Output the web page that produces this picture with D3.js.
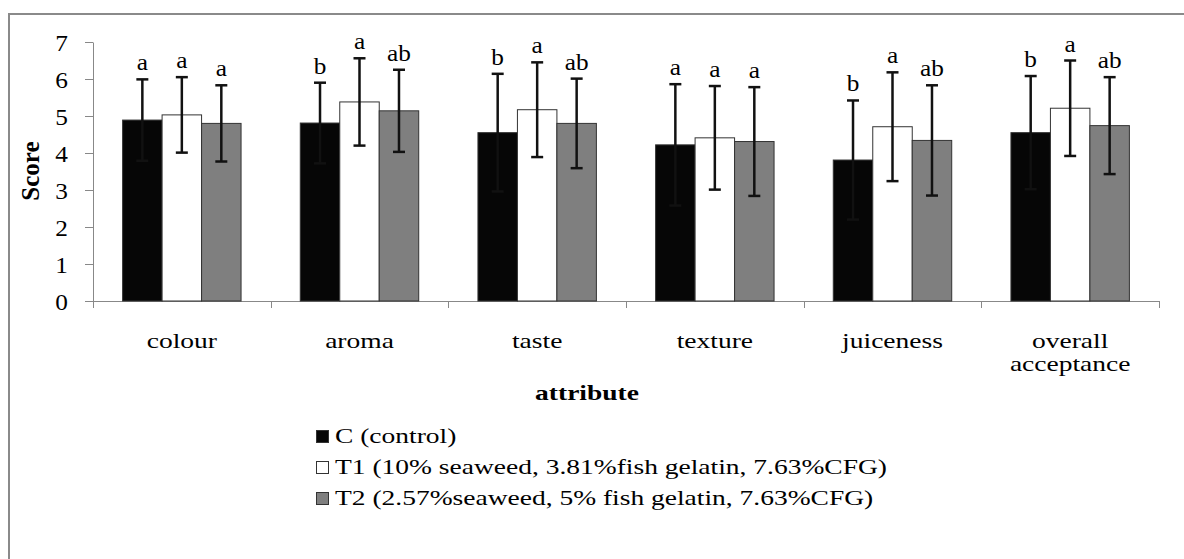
<!DOCTYPE html>
<html>
<head>
<meta charset="utf-8">
<script src="https://cdn.jsdelivr.net/npm/d3@7"></script>
<style>
  body { margin: 0; background: #fff; }
  svg { display: block; }
  svg text { font-family: "Liberation Serif", "Times New Roman", Times, "DejaVu Serif", serif; fill: #000; }
</style>
</head>
<body>
<svg id="chart" width="1184" height="559"></svg>
<script>
const categories = ["colour", "aroma", "taste", "texture", "juiceness", "overall acceptance"];
const seriesNames = ["C (control)",
    "T1 (10% seaweed, 3.81%fish gelatin, 7.63%CFG)",
    "T2 (2.57%seaweed, 5% fish gelatin, 7.63%CFG)"];
const valuesC  = [4.89, 4.81, 4.55, 4.22, 3.81, 4.55];
const valuesT1 = [5.03, 5.38, 5.17, 4.41, 4.71, 5.21];
const valuesT2 = [4.80, 5.14, 4.80, 4.31, 4.34, 4.74];
const sdC  = [1.10, 1.09, 1.59, 1.64, 1.61, 1.53];
const sdT1 = [1.02, 1.18, 1.28, 1.40, 1.47, 1.29];
const sdT2 = [1.03, 1.11, 1.21, 1.47, 1.49, 1.31];
const lettersC  = ["a", "b", "b", "a", "b", "b"];
const lettersT1 = ["a", "a", "a", "a", "a", "a"];
const lettersT2 = ["a", "ab", "ab", "a", "ab", "ab"];
const yTicks = [0, 1, 2, 3, 4, 5, 6, 7];

const fills = ["#060606", "#ffffff", "#7f7f7f"];
const series = [
    { name: seriesNames[0], values: valuesC,  sd: sdC,  letters: lettersC },
    { name: seriesNames[1], values: valuesT1, sd: sdT1, letters: lettersT1 },
    { name: seriesNames[2], values: valuesT2, sd: sdT2, letters: lettersT2 }
];

const FONT = '"Liberation Serif", "Times New Roman", Times, "DejaVu Serif", serif';
const SX = 1.25; // the picture's text is stretched sideways

const svg = d3.select("#chart");
const plotL = 93, plotR = 1159, plotT = 42, plotB = 301;

// chart frame (only top/left visible in the picture)
svg.append("rect")
    .attr("x", 9).attr("y", 14)
    .attr("width", 1300).attr("height", 700)
    .attr("fill", "none")
    .attr("stroke", "#8a8a8a")
    .attr("stroke-width", 2);

const x = d3.scaleBand().domain(categories).range([plotL, plotR]).padding(0);
const xs = d3.scaleBand().domain(d3.range(series.length))
    .range([0, x.bandwidth()]).paddingInner(0).paddingOuter(0.75);
const y = d3.scaleLinear().domain([0, 7]).range([plotB, plotT]);

// stretched text helper
function stext(parent, tx, ty, str, size, anchor, sx) {
    const g = parent.append("g")
        .attr("transform", `translate(${tx},${ty}) scale(${sx || SX},1)`);
    return g.append("text")
        .attr("font-family", FONT)
        .attr("font-size", size)
        .attr("text-anchor", anchor || "start")
        .text(str);
}

// y axis
const yAxis = svg.append("g")
    .attr("transform", `translate(${plotL},0)`)
    .call(d3.axisLeft(y).tickValues(yTicks).tickFormat("")
        .tickSize(8).tickSizeOuter(0));
yAxis.select(".domain").attr("stroke", "#888");
yAxis.selectAll(".tick line").attr("stroke", "#888");
yAxis.selectAll(".tick").each(function(d) {
    stext(d3.select(this), -25, 8, d3.format("d")(d), 23, "end", 1.1);
});

// x axis line + boundary ticks
const xg = svg.append("g");
xg.append("line")
    .attr("x1", plotL).attr("x2", plotR)
    .attr("y1", plotB + 0.5).attr("y2", plotB + 0.5)
    .attr("stroke", "#888");
const bounds = categories.map(c => x(c)).concat([plotR]);
xg.selectAll(".xtick").data(bounds).enter().append("line")
    .attr("class", "xtick")
    .attr("x1", d => Math.round(d) + 0.5).attr("x2", d => Math.round(d) + 0.5)
    .attr("y1", plotB).attr("y2", plotB + 7)
    .attr("stroke", "#888");

// category labels (wrap on spaces)
const catG = svg.append("g");
categories.forEach(c => {
    c.split(" ").forEach((w, i) => {
        stext(catG, x(c) + x.bandwidth() / 2, 348 + i * 23, w, 22, "middle");
    });
});

// axis titles
stext(svg, 587, 400, "attribute", 22, "middle").attr("font-weight", "bold");

svg.append("text")
    .attr("font-family", FONT)
    .attr("text-anchor", "middle")
    .attr("font-weight", "bold")
    .attr("font-size", 25)
    .attr("transform", "translate(39,171) rotate(-90)")
    .text("Score");

// bars
const groups = svg.append("g").selectAll("g").data(series).enter().append("g");

groups.selectAll("rect")
    .data((s, si) => s.values.map((v, i) => ({ v, i, si })))
    .enter().append("rect")
    .attr("x", d => x(categories[d.i]) + xs(d.si))
    .attr("y", d => y(d.v))
    .attr("width", xs.bandwidth())
    .attr("height", d => y(0) - y(d.v))
    .attr("fill", d => fills[d.si])
    .attr("stroke", "#333")
    .attr("stroke-width", 1);

// error bars
const errs = groups.selectAll(".err")
    .data((s, si) => s.values.map((v, i) => ({ v, sd: s.sd[i], letter: s.letters[i], i, si })))
    .enter().append("g")
    .attr("class", "err")
    .attr("transform", d => `translate(${x(categories[d.i]) + xs(d.si) + xs.bandwidth() / 2},0)`);

errs.append("line")
    .attr("y1", d => y(d.v - d.sd)).attr("y2", d => y(d.v + d.sd))
    .attr("stroke", "#111").attr("stroke-width", 2.5);
errs.append("line")
    .attr("x1", -6).attr("x2", 6)
    .attr("y1", d => y(d.v + d.sd)).attr("y2", d => y(d.v + d.sd))
    .attr("stroke", "#111").attr("stroke-width", 2.5);
errs.append("line")
    .attr("x1", -6).attr("x2", 6)
    .attr("y1", d => y(d.v - d.sd)).attr("y2", d => y(d.v - d.sd))
    .attr("stroke", "#111").attr("stroke-width", 2.5);

// significance letters
errs.each(function(d) {
    stext(d3.select(this), 0, y(d.v + d.sd) - 9, d.letter, 23, "middle", 1.1);
});

// legend
const legend = svg.append("g").selectAll("g").data(series).enter().append("g")
    .attr("transform", (d, i) => `translate(316,${443 + i * 31})`);
legend.append("rect")
    .attr("x", 0.5).attr("y", -12.5)
    .attr("width", 12).attr("height", 12)
    .attr("fill", (d, i) => fills[i])
    .attr("stroke", "#333");
legend.each(function(d) {
    stext(d3.select(this), 19, 0, d.name, 22, "start");
});
</script>
</body>
</html>
